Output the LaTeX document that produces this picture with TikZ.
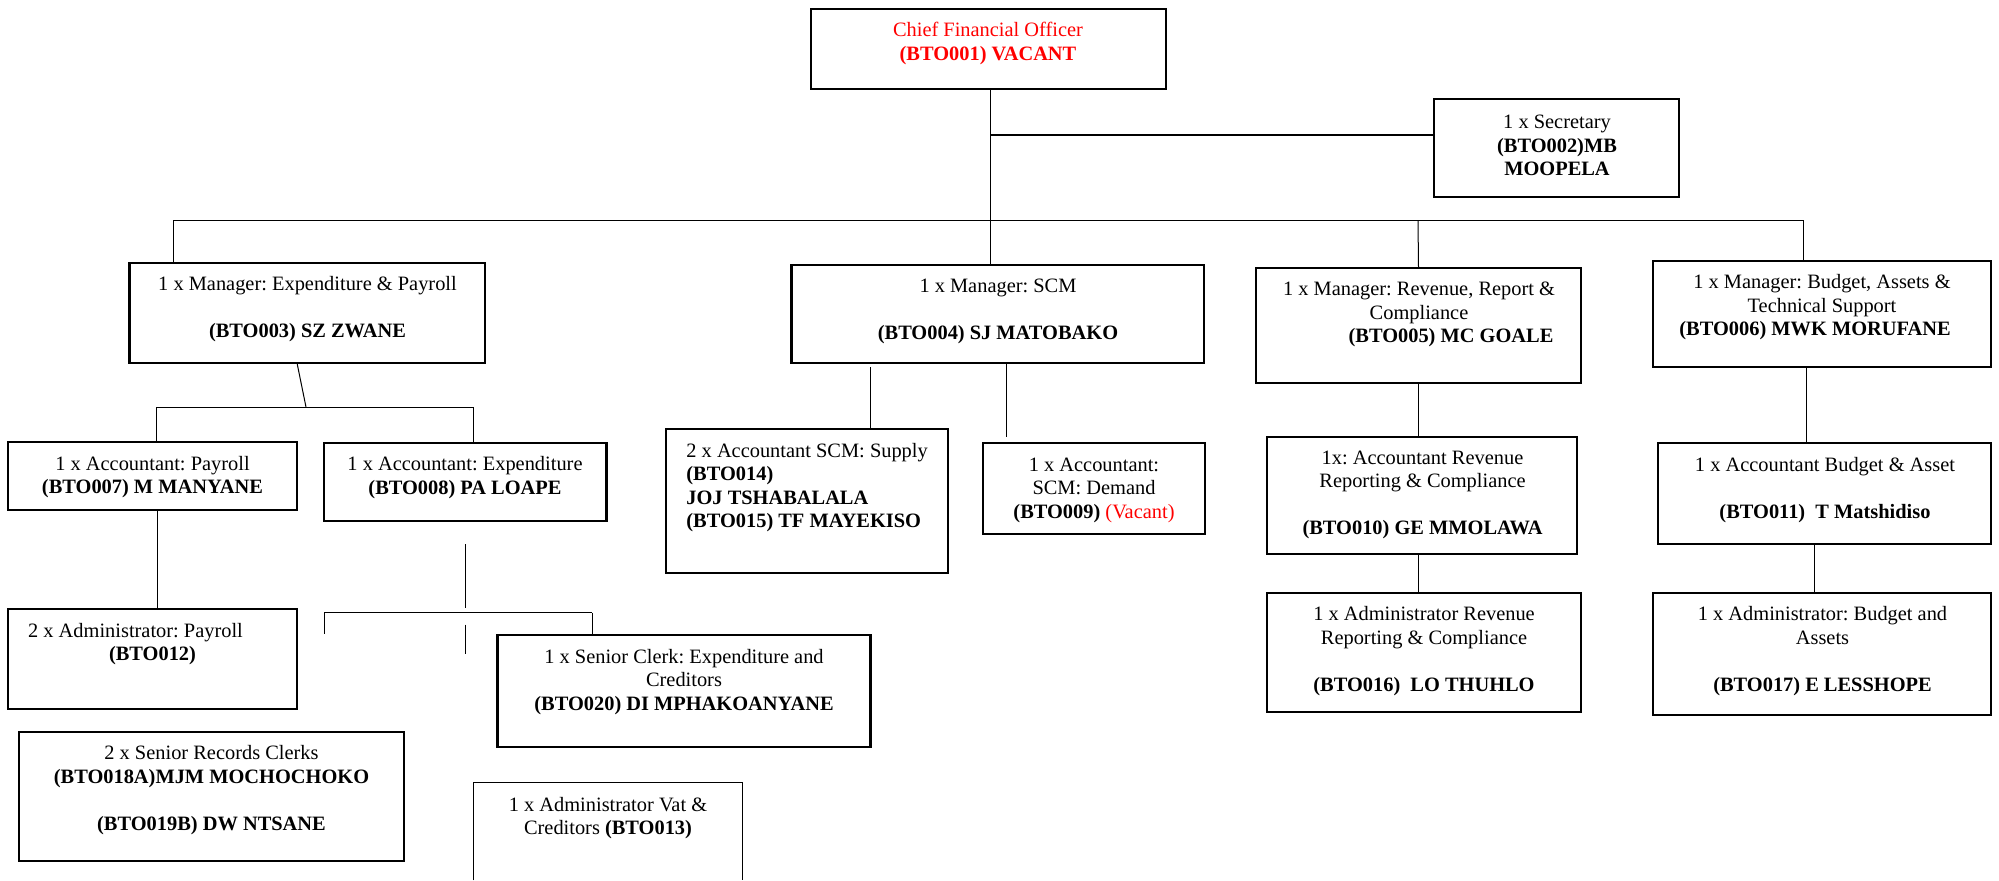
\documentclass[tikz,border=0pt]{standalone}
\usepackage{fontspec}
\setmainfont{Liberation Serif}
\usetikzlibrary{fit,calc}
\definecolor{cfored}{RGB}{255,0,0}
\frenchspacing
\begin{document}
\begin{tikzpicture}[x=0.5pt,y=-0.5pt,
  box/.style={draw, line width=1.1pt, inner sep=0pt},
  thinbox/.style={draw, line width=0.8pt, inner sep=0pt},
  txt/.style={inner sep=0pt, align=center, font=\fontsize{10.2}{11.75}\selectfont},
  conn/.style={line width=0.5pt},
  thickconn/.style={line width=0.9pt}
]
\useasboundingbox (0,0) rectangle (1999,880);
\fill[white] (0,0) rectangle (1999,880);

% ---------- boxes ----------
\node[box, fit={(811,9) (1166,89)}] (cfo) {};
\node[box, fit={(1434,99) (1679,197)}] (sec) {};
\node[box, fit={(129.5,262.7) (485,363)}] (m1) {};
\node[box, fit={(791.5,265) (1204,363)}] (scm) {};
\node[thinbox, fit={(1256,268) (1581,383)}] (m3) {};
\node[thinbox, fit={(1653,261) (1991,367)}] (m4) {};
\node[box, fit={(8,442) (297,510)}] (ap) {};
\node[box, fit={(324,442.7) (606.5,521)}] (ae) {};
\node[box, fit={(666,429) (948,573)}] (sup) {};
\node[box, fit={(983,443) (1205,534)}] (dem) {};
\node[thinbox, fit={(1267,437) (1577,554)}] (ar) {};
\node[thinbox, fit={(1658,443) (1991,544)}] (ab) {};
\node[box, fit={(8,609) (297,709)}] (adp) {};
\node[box, fit={(497.4,634.7) (870.5,746.7)}] (sc) {};
\node[thinbox, fit={(1267,593) (1581,712)}] (adr) {};
\node[thinbox, fit={(1653,593) (1991,715)}] (adb) {};
\node[thinbox, fit={(19,732) (404,861)}] (src) {};
\node[inner sep=0pt, fit={(474,783) (742,880)}] (vat) {};
\draw[line width=0.8pt] (vat.south west) -- (vat.north west) -- (vat.north east) -- (vat.south east);

% ---------- texts ----------
\node[txt, text=cfored] (cfo-t) at (988,43.3) {Chief Financial Officer\\\textbf{(BTO001) VACANT}};
\node[txt] (sec-t) at (1557,145.5) {1 x Secretary\\\textbf{(BTO002)MB}\\\textbf{MOOPELA}};
\node[txt] (m1-t) at (307.5,309.5) {1 x Manager: Expenditure \& Payroll\\[11.75pt]\textbf{(BTO003) SZ ZWANE}};
\node[txt] (scm-t) at (998,311) {1 x Manager: SCM\\[11.75pt]\textbf{(BTO004) SJ MATOBAKO}};
\node[txt] (m3-t) at (1419,314.5) {1 x Manager: Revenue, Report \&\\Compliance\\\hspace*{32pt}\textbf{(BTO005) MC GOALE}};
\node[txt] (m4-t) at (1822,307.5) {1 x Manager: Budget, Assets \&\\Technical Support\\\textbf{(BTO006) MWK MORUFANE}\hspace*{7pt}};
\node[txt] (ap-t) at (152.5,477) {1 x Accountant: Payroll\\\textbf{(BTO007) M MANYANE}};
\node[txt] (ae-t) at (465,477.7) {1 x Accountant: Expenditure\\\textbf{(BTO008) PA LOAPE}};
\node[txt, align=left, anchor=west] (sup-t) at (686,487.8) {2 x Accountant SCM: Supply\\\textbf{(BTO014)}\\\textbf{JOJ TSHABALALA}\\\textbf{(BTO015) TF MAYEKISO}};
\node[txt] (dem-t) at (1094,490) {1 x Accountant:\\SCM: Demand\\\textbf{(BTO009)} \textcolor{cfored}{(Vacant)}};
\node[txt] (ar-t) at (1422.5,495) {1x: Accountant Revenue\\Reporting \& Compliance\\[11.75pt]\textbf{(BTO010) GE MMOLAWA}};
\node[txt] (ab-t) at (1825,489.7) {1 x Accountant Budget \& Asset\\[11.75pt]\textbf{(BTO011)\ \ T Matshidiso}};
\node[txt] (adp-t) at (152.5,644) {2 x Administrator: Payroll\hspace*{17pt}\\\textbf{(BTO012)}};
\node[txt] (sc-t) at (684,682) {1 x Senior Clerk: Expenditure and\\Creditors\\\textbf{(BTO020) DI MPHAKOANYANE}};
\node[txt] (adr-t) at (1424,651.3) {1 x Administrator Revenue\\Reporting \& Compliance\\[11.75pt]\textbf{(BTO016)\ \ LO THUHLO}};
\node[txt] (adb-t) at (1822.5,651.3) {1 x Administrator: Budget and\\Assets\\[11.75pt]\textbf{(BTO017) E LESSHOPE}};
\node[txt] (src-t) at (211.5,790.3) {2 x Senior Records Clerks\\\textbf{(BTO018A)MJM MOCHOCHOKO}\\[11.75pt]\textbf{(BTO019B) DW NTSANE}};
\node[txt] (vat-t) at (608,818) {1 x Administrator Vat \&\\Creditors \textbf{(BTO013)}};

% ---------- connector points ----------
\coordinate (jsec) at (990,134.7);
\coordinate (jbus) at (990,220);
\coordinate (busL) at (173.5,220);
\coordinate (busR) at (1803,220);
\coordinate (busM3) at (1418,220);
\coordinate (b1) at (306,407);
\coordinate (brL) at (156,407);
\coordinate (brR) at (473,407);
\coordinate (apx) at (157,0);
\coordinate (s1a) at (870,367);
\coordinate (s2) at (1006,437);
\coordinate (e1) at (465,544);
\coordinate (e2) at (465,608);
\coordinate (eL) at (324,612.7);
\coordinate (eR) at (592,612.7);
\coordinate (eLd) at (324,633.7);
\coordinate (e3) at (465,624.7);
\coordinate (e4) at (465,654);
\coordinate (bx1) at (1806,0);
\coordinate (bx2) at (1814,0);

% ---------- connectors ----------
\draw[conn] (cfo.south -| jbus) -- (jbus |- scm.north);
\draw[thickconn] (jsec) -- (jsec -| sec.west);
\draw[conn] (busL) -- (busR);
\draw[conn] (busL) -- (busL |- m1.north);
\draw[conn] (busM3) -- (m3.north);
\draw[conn] (busR) -- (busR |- m4.north);
\draw[conn] ($(m1.south)+(-10,0)$) -- (b1);
\draw[conn] (brL) -- (brR);
\draw[conn] (brL) -- (brL |- ap.north);
\draw[conn] (brR) -- (brR |- ae.north);
\draw[conn] (ap.south -| apx) -- (adp.north -| apx);
\draw[conn] (s1a) -- (s1a |- sup.north);
\draw[conn] (scm.south -| s2) -- (s2);
\draw[conn] (e1) -- (e2);
\draw[conn] (eL) -- (eR);
\draw[conn] (eL) -- (eLd);
\draw[conn] (eR) -- (eR |- sc.north);
\draw[conn] (e3) -- (e4);
\draw[conn] (m3.south -| busM3) -- (ar.north -| busM3);
\draw[conn] (ar.south -| busM3) -- (adr.north -| busM3);
\draw[conn] (m4.south -| bx1) -- (ab.north -| bx1);
\draw[conn] (ab.south -| bx2) -- (adb.north -| bx2);
\end{tikzpicture}
\end{document}
